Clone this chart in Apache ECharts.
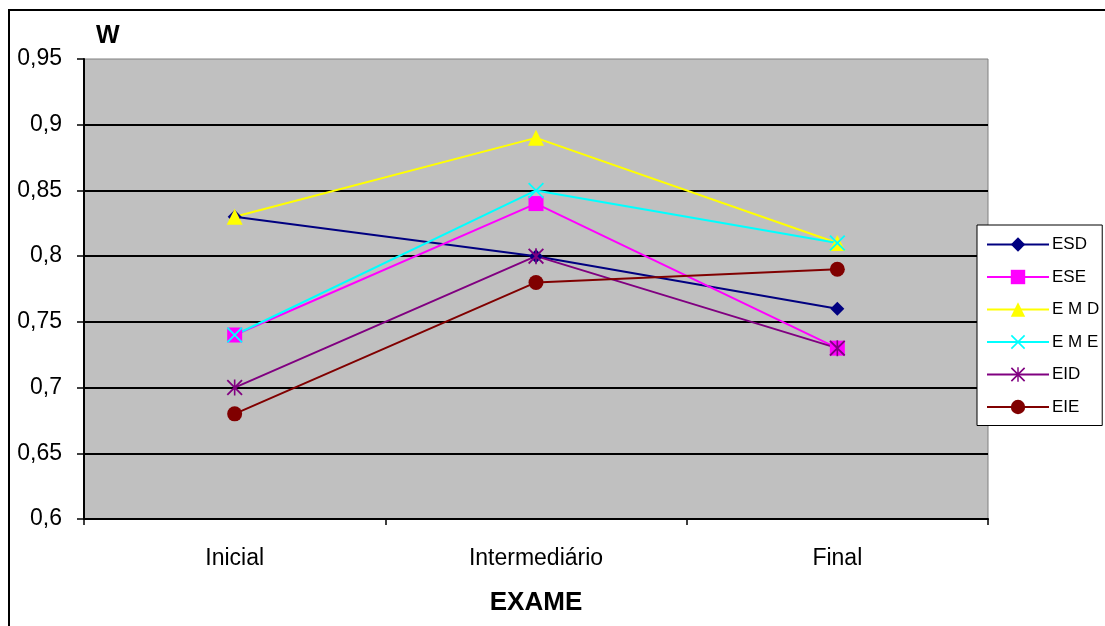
<!DOCTYPE html>
<html>
<head>
<meta charset="utf-8">
<script src="https://cdn.jsdelivr.net/npm/echarts@6/dist/echarts.min.js"></script>
<style>
  html, body { margin: 0; padding: 0; background: #fff; }
  #chart { width: 1105px; height: 626px; }
</style>
</head>
<body>
<div id="chart"></div>
<script>
// Exam stages on the x axis
var categories = ['Inicial', 'Intermediário', 'Final'];

// W coefficient per group
var esd = [0.83, 0.80, 0.76];
var ese = [0.74, 0.84, 0.73];
var emd = [0.83, 0.89, 0.81];
var eme = [0.74, 0.85, 0.81];
var eid = [0.70, 0.80, 0.73];
var eie = [0.68, 0.78, 0.79];

var seriesNames = ['ESD', 'ESE', 'E M D', 'E M E', 'EID', 'EIE'];

// Value axis range
var yMin = 0.6, yMax = 0.95, yStep = 0.05;

// Marker shapes
var crossPath = 'path://M0,8 L8,0 L50,42 L92,0 L100,8 L58,50 L100,92 L92,100 L50,58 L8,100 L0,92 L42,50 Z';
var starPath = 'path://M0,8 L8,0 L50,42 L92,0 L100,8 L58,50 L100,92 L92,100 L50,58 L8,100 L0,92 L42,50 Z M45,0 L55,0 L55,100 L45,100 Z';

var styles = [
  { color: '#000080', symbol: 'diamond', size: 14 },
  { color: '#ff00ff', symbol: 'rect', size: 15 },
  { color: '#ffff00', symbol: 'triangle', size: 16 },
  { color: '#00ffff', symbol: crossPath, size: 16 },
  { color: '#800080', symbol: starPath, size: 16 },
  { color: '#800000', symbol: 'circle', size: 15 }
];
var values = [esd, ese, emd, eme, eid, eie];

var series = values.map(function (v, i) {
  var s = styles[i];
  return {
    name: seriesNames[i],
    type: 'line',
    data: v,
    symbol: s.symbol,
    symbolSize: s.size,
    showAllSymbol: true,
    lineStyle: { color: s.color, width: 2 },
    itemStyle: { color: s.color },
    emphasis: { disabled: true },
    animation: false
  };
});

var chart = echarts.init(document.getElementById('chart'), null, { renderer: 'canvas' });
chart.setOption({
  animation: false,
  backgroundColor: '#ffffff',
  textStyle: { fontFamily: 'Liberation Sans, Arial, sans-serif' },
  graphic: [
    {
      type: 'rect',
      shape: { x: 9, y: 10, width: 1110, height: 630 },
      style: { fill: 'none', stroke: '#000', lineWidth: 2 },
      z: -1
    },
    {
      type: 'text',
      left: 96, top: 24,
      style: { text: 'W', font: 'bold 25px Liberation Sans, Arial, sans-serif', fill: '#000' }
    }
  ],
  grid: {
    left: 84, top: 59, width: 904, height: 460,
    outerBoundsMode: 'none',
    containLabel: false,
    show: true,
    backgroundColor: '#c0c0c0',
    borderColor: '#808080',
    borderWidth: 1
  },
  legend: {
    orient: 'vertical',
    left: 977, top: 225,
    data: seriesNames,
    itemWidth: 62,
    itemHeight: 18,
    itemGap: 15.5,
    padding: [11, 3, 10, 9],
    borderColor: '#000',
    borderWidth: 1,
    backgroundColor: '#fff',
    textStyle: { fontSize: 17, color: '#000', padding: [0, 0, 0, -2] },
    selectedMode: false
  },
  xAxis: {
    type: 'category',
    data: categories,
    boundaryGap: true,
    name: 'EXAME',
    nameLocation: 'middle',
    nameGap: 71,
    nameTextStyle: { fontSize: 26, fontWeight: 'bold', color: '#000' },
    axisLine: { lineStyle: { color: '#000', width: 2 } },
    axisTick: { show: true, length: 6, lineStyle: { color: '#000', width: 1.5 } },
    axisLabel: { fontSize: 23, color: '#000', margin: 28 },
    splitLine: { show: false }
  },
  yAxis: {
    type: 'value',
    min: yMin, max: yMax, interval: yStep,
    axisLine: { show: true, lineStyle: { color: '#000', width: 2 } },
    axisTick: { show: true, length: 7, lineStyle: { color: '#000', width: 1.5 } },
    axisLabel: {
      fontSize: 23, color: '#000', margin: 22,
      formatter: function (v) { return String(Math.round(v * 100) / 100).replace('.', ','); }
    },
    splitLine: { show: true, showMinLine: false, showMaxLine: false, lineStyle: { color: '#000', width: 2 } }
  },
  series: series
});
</script>
</body>
</html>
